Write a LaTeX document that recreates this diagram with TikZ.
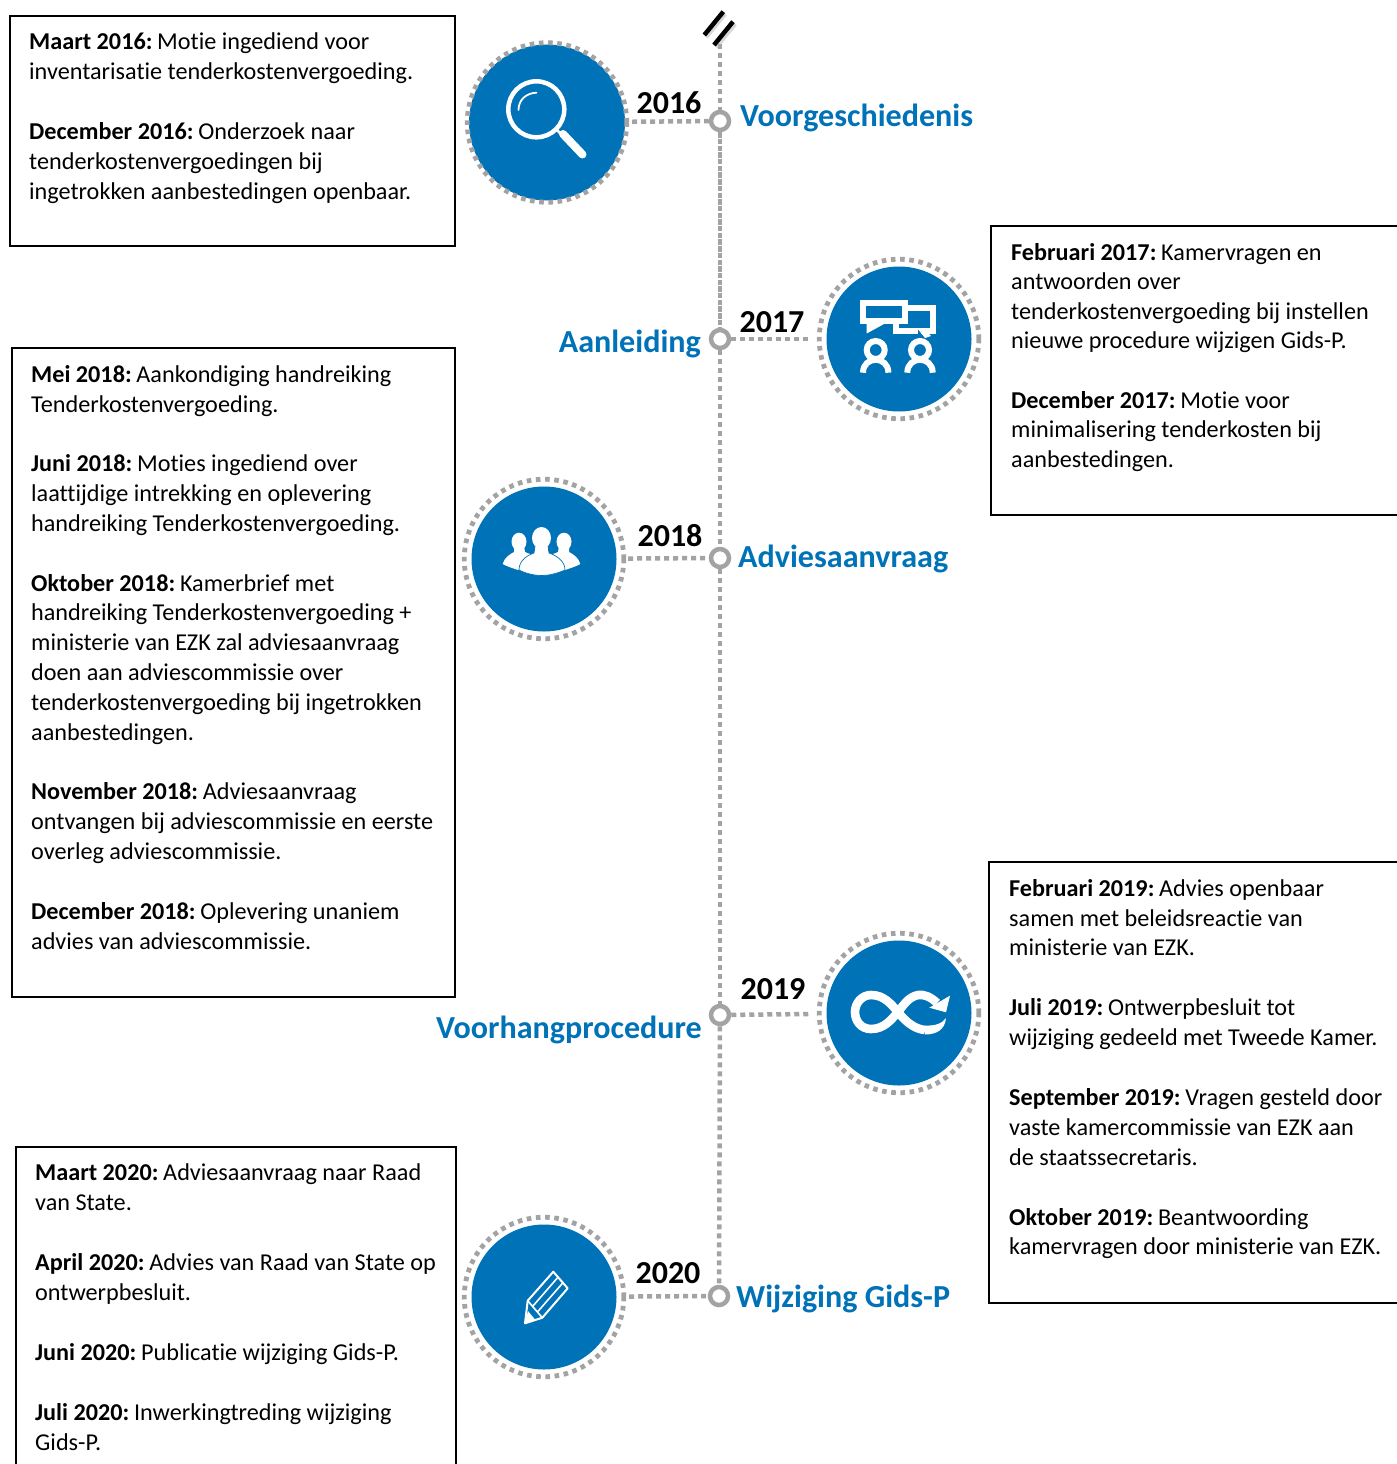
\documentclass[tikz,border=0pt]{standalone}
\usepackage{fontspec}
\setmainfont[Ligatures=NoCommon]{Carlito}
\definecolor{tlblue}{HTML}{0072B7}
\definecolor{tlgray}{HTML}{A3A3A3}
\newcommand{\lab}[1]{\textbf{#1}\hspace{-2.5pt}}
\tikzset{
  x=1pt,y=-1pt,
  box/.style={draw=black,line width=1.6pt,fill=white,rectangle,inner sep=0pt,outer sep=0pt,anchor=north west},
  body/.style={anchor=north west,inner sep=0pt,align=left,font=\fontsize{24.2}{#1}\selectfont},
  year/.style={font=\fontsize{32}{36}\selectfont\bfseries,inner sep=0pt,text=black},
  title/.style={font=\fontsize{32.1}{36}\selectfont\bfseries,inner sep=0pt,text=tlblue},
  disc/.style={circle,fill=tlblue,inner sep=0pt},
  ring/.style={circle,draw=tlgray,line width=4.8pt,dash pattern=on 4.6pt off 4.6pt,inner sep=0pt,minimum size=159.5pt},
  dot/.style={circle,draw=tlgray,fill=white,line width=4.5pt,inner sep=0pt,minimum size=18pt},
  dotline/.style={draw=tlgray,line width=4.5pt,dash pattern=on 5pt off 4pt},
  denseline/.style={draw=tlgray,line width=4.5pt,dash pattern=on 5.4pt off 1.3pt},
  icon/.style={draw=white,line cap=butt,line join=miter},
}
\begin{document}
\begin{tikzpicture}
\useasboundingbox (0,0) rectangle (1397,1464);
\fill[white] (0,0) rectangle (1397,1464);
% timeline
\coordinate (top) at (720,44);
\node[dot] (t16) at (720,121) {};
\node[dot] (t17) at (720,339) {};
\node[dot] (t18) at (720,558) {};
\node[dot] (t19) at (720,1015) {};
\node[dot] (t20) at (719,1296) {};
\node[disc,minimum size=156pt] (c16) at (547,122.5) {};
\node[disc,minimum size=145pt] (c17) at (899,339) {};
\node[disc,minimum size=145pt] (c18) at (544,559) {};
\node[disc,minimum size=145pt] (c19) at (899,1013) {};
\node[disc,minimum size=145pt] (c20) at (544,1297) {};
\node[ring] (r16) at (547,122.5) {};
\node[ring] (r17) at (899,339) {};
\node[ring] (r18) at (544,559) {};
\node[ring] (r19) at (899,1013) {};
\node[ring] (r20) at (544,1297) {};
\draw[dotline] (top) -- (t16);
\draw[denseline] (t16) -- (t17);
\draw[dotline] (t17) -- (t18);
\draw[dotline] (t18) -- (t19);
\draw[dotline] (t19) -- (t20);
\draw[dotline,shorten <=3pt] (r16) -- (t16);
\draw[dotline,shorten >=9pt] (t17) -- (r17);
\draw[dotline,shorten <=2pt] (r18) -- (t18);
\draw[dotline,shorten >=7pt] (t19) -- (r19);
\draw[dotline,shorten <=3pt] (r20) -- (t20);
% break mark
\draw[black!30,line width=4.5pt,opacity=.5] (706,37) -- (725,14) (716,47) -- (735,24);
\draw[black,line width=4.5pt] (704.3,35) -- (723.3,11.7) (714,45) -- (733,21.7);
% years
\node[year] (y16) at (669,102.5) {2016};
\node[year] (y17) at (772,322.5) {2017};
\node[year] (y18) at (670,535.5) {2018};
\node[year] (y19) at (773,989.5) {2019};
\node[year] (y20) at (668,1273.5) {2020};
% titles
\node[title,anchor=west] (n16) at (740,117.5) {Voorgeschiedenis};
\node[title,anchor=east] (n17) at (701,343.5) {Aanleiding};
\node[title,anchor=west] (n18) at (738,558.5) {Adviesaanvraag};
\node[title,anchor=east] (n19) at (702,1029.5) {Voorhangprocedure};
\node[title,anchor=west] (n20) at (736,1298.5) {Wijziging Gids-P};
% boxes
\node[box,minimum width=445pt,minimum height=230pt] (b1) at (10,16) {};
\node[box,minimum width=420pt,minimum height=289pt] (b2) at (991,226) {};
\node[box,minimum width=443pt,minimum height=649pt] (b3) at (12,348) {};
\node[box,minimum width=420pt,minimum height=441pt] (b4) at (989,862) {};
\node[box,minimum width=440pt,minimum height=340pt] (b5) at (16,1147) {};
% text
\node[body=30pt] (x1) at (29,32) {\lab{Maart 2016:} Motie ingediend voor\\inventarisatie tenderkostenvergoeding.\\[\baselineskip]\lab{December 2016:} Onderzoek naar\\tenderkostenvergoedingen bij\\ingetrokken aanbestedingen openbaar.};
\node[body=29.6pt] (x2) at (1011,243) {\lab{Februari 2017:} Kamervragen en\\antwoorden over\\tenderkostenvergoeding bij instellen\\nieuwe procedure wijzigen Gids-P.\\[\baselineskip]\lab{December 2017:} Motie voor\\minimalisering tenderkosten bij\\aanbestedingen.};
\node[body=29.84pt] (x3) at (31,365) {\lab{Mei 2018:} Aankondiging handreiking\\Tenderkostenvergoeding.\\[\baselineskip]\lab{Juni 2018:} Moties ingediend over\\laattijdige intrekking en oplevering\\handreiking Tenderkostenvergoeding.\\[\baselineskip]\lab{Oktober 2018:} Kamerbrief met\\handreiking Tenderkostenvergoeding +\\ministerie van EZK zal adviesaanvraag\\doen aan adviescommissie over\\tenderkostenvergoeding bij ingetrokken\\aanbestedingen.\\[\baselineskip]\lab{November 2018:} Adviesaanvraag\\ontvangen bij adviescommissie en eerste\\overleg adviescommissie.\\[\baselineskip]\lab{December 2018:} Oplevering unaniem\\advies van adviescommissie.};
\node[body=29.9pt] (x4) at (1009,879) {\lab{Februari 2019:} Advies openbaar\\samen met beleidsreactie van\\ministerie van EZK.\\[\baselineskip]\lab{Juli 2019:} Ontwerpbesluit tot\\wijziging gedeeld met Tweede Kamer.\\[\baselineskip]\lab{September 2019:} Vragen gesteld door\\vaste kamercommissie van EZK aan\\de staatssecretaris.\\[\baselineskip]\lab{Oktober 2019:} Beantwoording\\kamervragen door ministerie van EZK.};
\node[body=30.1pt] (x5) at (35,1163) {\lab{Maart 2020:} Adviesaanvraag naar Raad\\van State.\\[\baselineskip]\lab{April 2020:} Advies van Raad van State op\\ontwerpbesluit.\\[\baselineskip]\lab{Juni 2020:} Publicatie wijziging Gids-P.\\[\baselineskip]\lab{Juli 2020:} Inwerkingtreding wijziging\\Gids-P.};
% magnifier
\draw[white,line width=4.5pt] (536.3,109.3) circle[radius=28pt];
\draw[white,line width=1.8pt,line cap=round] (518.5,110) .. controls (518.5,100) and (526,93) .. (536.5,92.7);
\draw[white,line width=2.8pt] (556,129) -- (566,139);
\draw[white,line width=8pt,line cap=round] (563,134) -- (582.5,154.5);
% chat + people
\draw[icon,line width=6pt] (866.5,321) -- (863,321) -- (863,302.5) -- (904.5,302.5) -- (904.5,321) -- (881,321);
\fill[white] (866.7,318) -- (866.7,333.5) -- (884,324) -- (881,318) -- cycle;
\draw[icon,line width=6pt] (907,308) -- (932.5,308) -- (932.5,331) -- (921,331);
\draw[icon,line width=6pt] (895.7,322) -- (895.7,331) -- (918,331);
\fill[white] (917,328) -- (923,328) -- (931,336) -- (925,338) -- cycle;
\draw[white,line width=6pt] (875.7,350) circle[radius=9pt] (920,350) circle[radius=9pt];
\draw[icon,line width=6pt]
  (863,372.7) .. controls (863,355.5) and (888.4,355.5) .. (888.4,372.7)
  (907.3,372.7) .. controls (907.3,355.5) and (932.7,355.5) .. (932.7,372.7);
% group
\fill[white] (519,541.7) ellipse[x radius=7.5pt,y radius=9pt];
\fill[white] (564,541.7) ellipse[x radius=7.5pt,y radius=9pt];
\fill[white] (514,546) -- (524,546) -- (525,552) -- (535,556) -- (518,570) .. controls (512,568) and (506,566) .. (502.7,564) .. controls (504,558) and (510,554) .. (514,552) -- cycle;
\fill[white] (569,546) -- (559,546) -- (558,552) -- (548,556) -- (565,570) .. controls (571,568) and (577,566) .. (580.3,564) .. controls (579,558) and (573,554) .. (569,552) -- cycle;
\fill[white,draw=tlblue,line width=.7pt] (535,546) -- (548,546) -- (549,553) .. controls (558,556) and (565,562) .. (565,570) .. controls (556,574) and (548,575.5) .. (541.5,575.5) .. controls (535,575.5) and (527,574) .. (519,570) .. controls (519,562) and (525,556) .. (534,553) -- cycle;
\fill[white] (541.5,538) ellipse[x radius=9.5pt,y radius=11pt];
% infinity
\draw[white,line width=8.6pt,line join=round]
  (937,1003) .. controls (931,997) and (924,994) .. (918,995)
  .. controls (908,997) and (903,1006) .. (898,1012)
  .. controls (891,1020) and (884,1029) .. (871,1029)
  .. controls (861,1029) and (855,1021) .. (855,1012)
  .. controls (855,1003) and (862,995) .. (871,995)
  .. controls (884,995) and (891,1004) .. (898,1012)
  .. controls (905,1021) and (914,1029) .. (925,1030);
\fill[white] (925,1034.5) .. controls (936,1034.5) and (945,1030) .. (946,1018) .. controls (942,1024) and (934,1026) .. (925,1025.5) -- cycle;
\fill[white] (950,995.7) -- (946,1012.3) -- (929.3,1007.7) -- cycle;
% pencil
\draw[icon,line width=2pt,line join=round] (525,1323.3) -- (527.7,1300.7) -- (553.3,1271.7) -- (567.7,1288.3) -- (542.3,1317.7) -- cycle;
\draw[white,line width=1.6pt] (527.7,1300.7) -- (542.3,1317.7) (532.6,1306.4) -- (558,1277.2) (537.4,1312) -- (562.9,1282.8);
\fill[white] (525,1323.3) -- (528,1311) -- (535,1319.5) -- cycle;
\end{tikzpicture}
\end{document}
